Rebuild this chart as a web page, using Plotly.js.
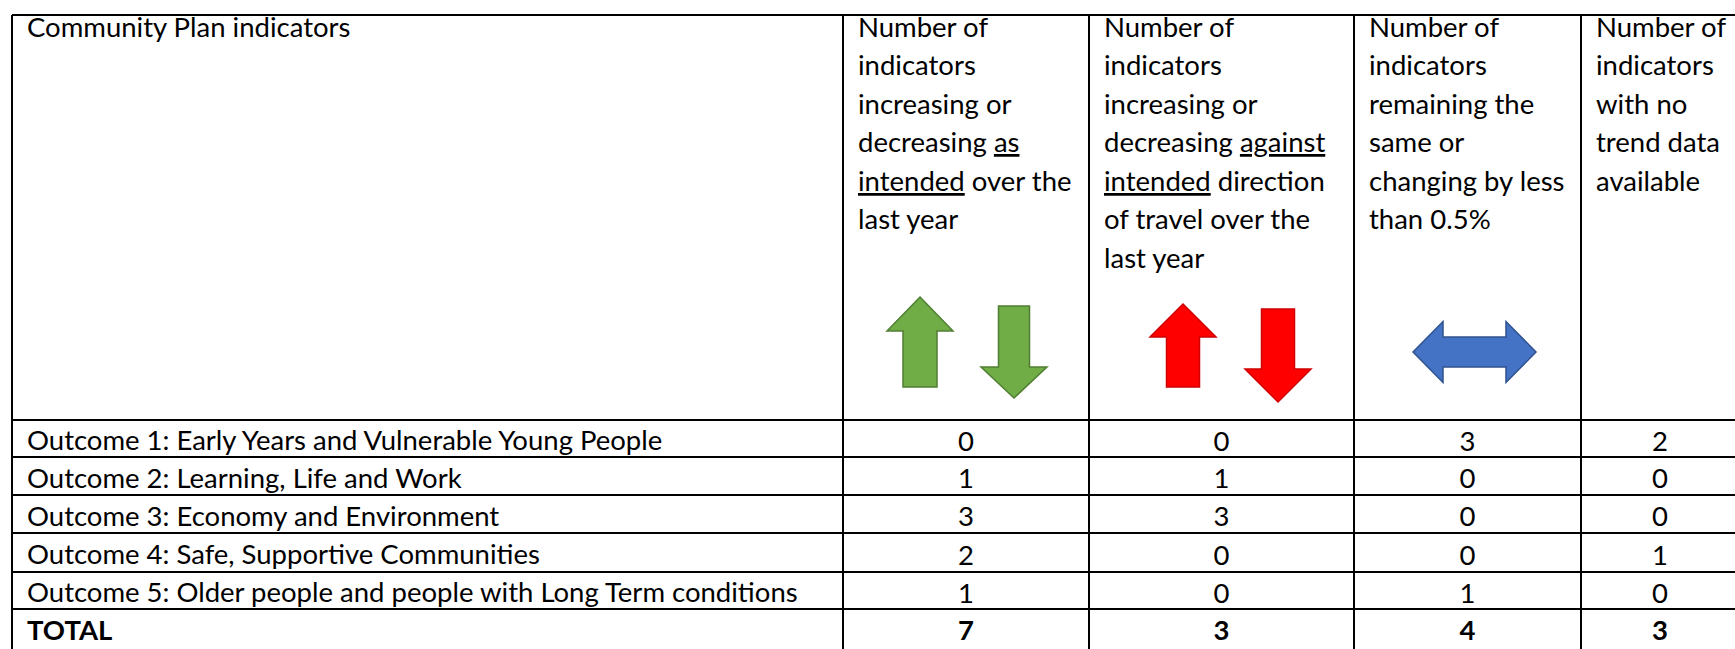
<!DOCTYPE html>
<html>
<head>
<meta charset="utf-8">
<script src="https://cdn.plot.ly/plotly-3.0.1.min.js"></script>
<style>html,body{margin:0;padding:0;background:#fff;}#chart{width:1735px;height:649px;}</style>
</head>
<body>
<div id="chart"></div>
<script>
// ---- data ----
const headerTexts = [
  ["Community Plan indicators"],
  ["Number of", "indicators", "increasing or", "decreasing <u>as</u>", "<u>intended</u> over the", "last year"],
  ["Number of", "indicators", "increasing or", "decreasing <u>against</u>", "<u>intended</u> direction", "of travel over the", "last year"],
  ["Number of", "indicators", "remaining the", "same or", "changing by less", "than 0.5%"],
  ["Number of", "indicators", "with no", "trend data", "available"]
];
const outcomes = [
  "Outcome 1: Early Years and Vulnerable Young People",
  "Outcome 2: Learning, Life and Work",
  "Outcome 3: Economy and Environment",
  "Outcome 4: Safe, Supportive Communities",
  "Outcome 5: Older people and people with Long Term conditions"
];
const asIntended      = [0, 1, 3, 2, 1];
const againstIntended = [0, 1, 3, 0, 0];
const sameOrLess      = [3, 0, 0, 0, 1];
const noTrendData     = [2, 0, 0, 1, 0];
const totalLabel = "TOTAL";
const totals = [7, 3, 4, 3];

// ---- layout geometry ----
const W = 1735, H = 649;
const colEdges = [12, 843, 1089, 1354, 1581, 1739];
const rowEdges = [15, 420, 457, 495, 533, 572, 609, 651];
const FONT = "Lato, 'Open Sans', sans-serif";
const FS = 27.5;
const pad = 13;
const lineGap = 38.5;
const firstLine = 26;

const annotations = [];
const shapes = [];

// grid lines
const lw = 2;
rowEdges.forEach((y) => {
  shapes.push({type: 'line', xref: 'x', yref: 'y', x0: colEdges[0], x1: colEdges[colEdges.length - 1], y0: y, y1: y,
    line: {color: '#000', width: lw}});
});
colEdges.forEach((x) => {
  shapes.push({type: 'line', xref: 'x', yref: 'y', x0: x, x1: x, y0: rowEdges[0], y1: rowEdges[rowEdges.length - 1],
    line: {color: '#000', width: lw}});
});

// header text
headerTexts.forEach((lines, c) => {
  lines.forEach((t, i) => {
    annotations.push({xref: 'x', yref: 'y', x: colEdges[c] + pad, y: firstLine + i * lineGap,
      text: t, showarrow: false, xanchor: 'left', yanchor: 'middle', align: 'left',
      font: {family: FONT, size: FS, color: '#000'}});
  });
});

// body rows
const valueCols = [asIntended, againstIntended, sameOrLess, noTrendData];
const rowLabels = outcomes.concat(["<b>" + totalLabel + "</b>"]);
const rowMid = (r) => (rowEdges[r + 1] + Math.min(rowEdges[r + 2], 647)) / 2 + 1;
rowLabels.forEach((lab, r) => {
  annotations.push({xref: 'x', yref: 'y', x: colEdges[0] + pad, y: rowMid(r), text: lab, showarrow: false,
    xanchor: 'left', yanchor: 'middle', align: 'left', font: {family: FONT, size: FS, color: '#000'}});
});

const numShift = 4.5;
const traces = valueCols.map((vals, c) => {
  const xc = (colEdges[c + 1] + colEdges[c + 2]) / 2;
  const xs = [], ys = [], txt = [];
  vals.forEach((v, r) => {
    xs.push(xc); ys.push(rowMid(r) + numShift); txt.push(String(v));
  });
  xs.push(xc); ys.push(rowMid(5) + numShift); txt.push("<b>" + totals[c] + "</b>");
  return {type: 'scatter', mode: 'text', x: xs, y: ys, text: txt, textposition: 'middle center',
    textfont: {family: FONT, size: FS, color: '#000'}, hoverinfo: 'skip', showlegend: false, cliponaxis: false};
});

// arrow icons
function vArrow(cx, yTip, yHead, yEnd, headHalf, shaftHalf) {
  return `M${cx},${yTip} L${cx + headHalf},${yHead} L${cx + shaftHalf},${yHead} L${cx + shaftHalf},${yEnd} ` +
         `L${cx - shaftHalf},${yEnd} L${cx - shaftHalf},${yHead} L${cx - headHalf},${yHead} Z`;
}
function hArrow(xL, xR, cy, headLen, headHalf, shaftHalf) {
  return `M${xL},${cy} L${xL + headLen},${cy - headHalf} L${xL + headLen},${cy - shaftHalf} L${xR - headLen},${cy - shaftHalf} ` +
         `L${xR - headLen},${cy - headHalf} L${xR},${cy} L${xR - headLen},${cy + headHalf} L${xR - headLen},${cy + shaftHalf} ` +
         `L${xL + headLen},${cy + shaftHalf} L${xL + headLen},${cy + headHalf} Z`;
}
const green = {fill: '#70AD47', line: '#507E32'};
const red = {fill: '#FF0000', line: '#D00000'};
const blue = {fill: '#4472C4', line: '#2F528F'};
[
  [vArrow(920, 297, 331, 387, 33, 17), green],
  [vArrow(1014, 398, 367, 306, 33, 15.5), green],
  [vArrow(1183, 304, 337, 387, 33, 16.5), red],
  [vArrow(1278, 402, 369, 309, 33, 16.5), red],
  [hArrow(1413, 1536, 352, 30, 30.5, 15), blue]
].forEach(([p, col]) => {
  shapes.push({type: 'path', xref: 'x', yref: 'y', path: p, fillcolor: col.fill, line: {color: col.line, width: 1.5}});
});

const layout = {
  width: W, height: H,
  margin: {l: 0, r: 0, t: 0, b: 0, pad: 0},
  paper_bgcolor: '#fff', plot_bgcolor: '#fff',
  xaxis: {range: [0, W], visible: false, fixedrange: true},
  yaxis: {range: [H, 0], visible: false, fixedrange: true},
  shapes: shapes,
  annotations: annotations,
  showlegend: false
};
Plotly.newPlot('chart', traces, layout, {staticPlot: true, displayModeBar: false});
</script>
</body>
</html>
